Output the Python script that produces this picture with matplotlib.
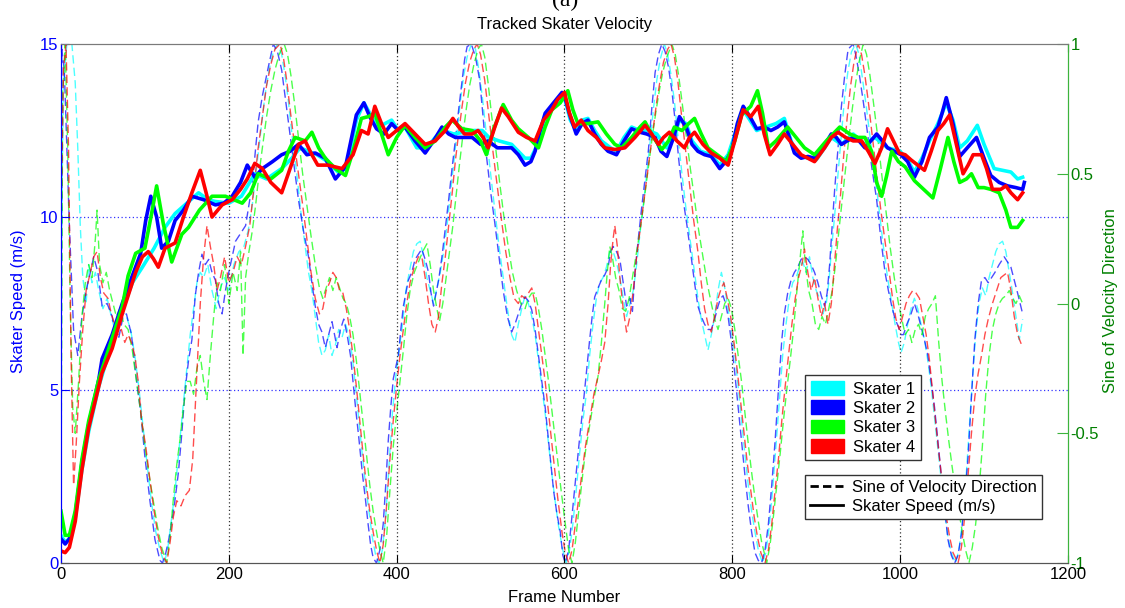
import matplotlib
matplotlib.use('Agg')
import matplotlib.pyplot as plt
from matplotlib.patches import Patch
from matplotlib.lines import Line2D

plt.rcParams['font.family'] = ['Liberation Sans', 'DejaVu Sans']

skater_names = ['Skater 1', 'Skater 2', 'Skater 3', 'Skater 4']
skater_colors = ['#00ffff', '#0000ff', '#00ff00', '#ff0000']

x_ticks = [0, 200, 400, 600, 800, 1000, 1200]
speed_ticks = [0, 5, 10, 15]
sine_ticks = [-1, -0.5, 0, 0.5, 1]
sine_tick_labels = ['-1', '-0.5', '0', '0.5', '1']

# ---- skater speed (m/s) ----
speed1_f = [0, 5, 10, 17, 25, 33, 45, 61, 73, 85, 97, 111, 124, 136, 150, 164, 175, 184, 200, 215, 231, 245, 263, 275, 285, 295, 305, 318, 330, 340, 352, 361, 368, 378, 394, 402, 410, 424, 436, 446, 456, 468, 480, 492, 502, 510, 522, 537, 545, 553, 560, 568, 577, 587, 600, 607, 614, 621, 628, 636, 644, 655, 662, 671, 680, 690, 700, 710, 722, 730, 737, 745, 752, 762, 775, 785, 795, 806, 813, 821, 829, 840, 852, 862, 870, 878, 890, 900, 910, 918, 930, 944, 958, 970, 985, 1000, 1010, 1017, 1026, 1035, 1045, 1055, 1063, 1071, 1080, 1092, 1100, 1112, 1122, 1132, 1140, 1146]
speed1_v = [0.8, 0.6, 0.7, 1.3, 2.7, 3.8, 5.1, 6.4, 7.3, 8.1, 8.55, 9.1, 9.7, 10.1, 10.4, 10.7, 10.5, 10.45, 10.4, 10.6, 11.25, 11.1, 11.4, 11.7, 12.0, 11.9, 11.8, 11.6, 11.3, 11.4, 12.8, 13.3, 13.0, 12.6, 12.8, 12.5, 12.6, 12.0, 12.0, 12.3, 12.5, 12.4, 12.45, 12.5, 12.5, 12.3, 12.2, 12.1, 11.9, 11.7, 11.7, 12.1, 12.9, 13.2, 13.45, 12.8, 12.5, 12.8, 12.85, 12.5, 12.2, 12.0, 11.9, 12.3, 12.6, 12.5, 12.5, 12.4, 12.0, 12.3, 12.8, 12.7, 12.2, 11.9, 11.8, 11.5, 11.8, 12.6, 13.1, 12.8, 12.5, 12.6, 12.7, 12.85, 12.2, 11.8, 11.7, 11.65, 12.0, 12.3, 12.1, 12.4, 12.1, 12.3, 12.0, 11.9, 11.6, 11.3, 11.7, 12.2, 12.7, 13.3, 12.8, 12.0, 12.2, 12.65, 12.1, 11.4, 11.35, 11.3, 11.1, 11.15]

speed2_f = [0, 5, 10, 17, 25, 33, 45, 49, 61, 73, 85, 95, 101, 107, 114, 120, 128, 136, 146, 156, 170, 184, 194, 204, 214, 222, 231, 240, 252, 263, 273, 283, 293, 303, 315, 327, 339, 352, 361, 368, 376, 385, 394, 402, 410, 422, 434, 444, 454, 462, 470, 480, 490, 500, 509, 520, 537, 545, 553, 560, 565, 571, 577, 587, 597, 600, 607, 614, 621, 628, 636, 644, 652, 662, 671, 680, 690, 698, 708, 715, 722, 730, 737, 745, 752, 759, 767, 775, 785, 792, 799, 806, 813, 821, 829, 838, 846, 854, 862, 868, 874, 882, 890, 898, 908, 918, 924, 930, 937, 944, 951, 958, 965, 972, 979, 985, 993, 1001, 1009, 1017, 1026, 1035, 1045, 1050, 1055, 1063, 1071, 1080, 1091, 1100, 1108, 1118, 1128, 1138, 1146, 1148]
speed2_v = [0.7, 0.55, 0.7, 1.4, 2.9, 4.0, 5.3, 5.9, 6.6, 7.5, 8.3, 8.95, 9.9, 10.6, 10.0, 9.1, 9.3, 9.9, 10.2, 10.6, 10.5, 10.35, 10.4, 10.6, 11.0, 11.5, 11.15, 11.4, 11.6, 11.8, 11.9, 12.1, 11.8, 11.85, 11.7, 11.1, 11.45, 12.95, 13.3, 12.9, 12.55, 12.4, 12.7, 12.5, 12.6, 12.2, 11.85, 12.2, 12.6, 12.4, 12.3, 12.3, 12.3, 12.1, 12.2, 12.0, 12.0, 11.8, 11.5, 11.6, 11.9, 12.5, 13.0, 13.3, 13.6, 13.5, 12.9, 12.4, 12.7, 12.8, 12.4, 12.1, 11.9, 11.8, 12.2, 12.55, 12.45, 12.4, 12.3, 11.9, 11.75, 12.3, 12.9, 12.6, 12.1, 11.9, 11.8, 11.75, 11.4, 11.6, 11.9, 12.7, 13.2, 12.9, 12.55, 12.6, 12.5, 12.6, 12.75, 12.3, 11.85, 11.7, 11.75, 11.7, 12.0, 12.4, 12.3, 12.1, 12.2, 12.3, 12.2, 12.0, 12.2, 12.4, 12.2, 12.0, 11.9, 11.8, 11.6, 11.15, 11.6, 12.3, 12.6, 13.0, 13.45, 12.7, 11.75, 12.0, 12.3, 11.7, 11.2, 11.0, 10.9, 10.85, 10.8, 11.0]

speed3_f = [0, 5, 10, 17, 25, 33, 45, 61, 73, 80, 89, 100, 108, 114, 122, 132, 144, 152, 165, 180, 196, 216, 226, 235, 250, 263, 271, 279, 291, 299, 307, 315, 327, 339, 348, 358, 366, 374, 382, 390, 400, 410, 422, 434, 446, 458, 466, 478, 490, 500, 507, 515, 527, 537, 545, 557, 569, 577, 585, 595, 604, 610, 616, 628, 640, 650, 660, 668, 680, 690, 696, 706, 716, 724, 731, 740, 748, 755, 763, 771, 782, 793, 803, 811, 822, 830, 836, 843, 852, 866, 876, 886, 898, 912, 928, 940, 950, 958, 966, 972, 978, 984, 990, 998, 1006, 1017, 1028, 1039, 1048, 1057, 1064, 1071, 1079, 1085, 1093, 1100, 1108, 1118, 1126, 1132, 1140, 1146]
speed3_v = [1.5, 0.8, 0.8, 1.5, 3.0, 4.1, 5.3, 6.5, 7.4, 8.3, 8.95, 9.1, 10.1, 10.9, 9.8, 8.7, 9.5, 9.7, 10.2, 10.6, 10.6, 10.4, 10.7, 11.25, 11.1, 11.35, 11.9, 12.3, 12.2, 12.45, 12.0, 11.7, 11.4, 11.2, 11.9, 12.85, 12.9, 13.0, 12.4, 11.8, 12.3, 12.65, 12.3, 12.0, 12.2, 12.6, 12.8, 12.55, 12.5, 12.2, 11.8, 12.5, 13.25, 12.8, 12.55, 12.3, 12.0, 12.6, 13.1, 13.3, 13.65, 13.1, 12.7, 12.7, 12.75, 12.4, 12.1, 12.0, 12.3, 12.6, 12.75, 12.3, 11.95, 12.2, 12.6, 12.5, 12.7, 12.85, 12.4, 12.0, 11.8, 11.6, 12.2, 12.95, 13.2, 13.65, 13.0, 12.0, 12.2, 12.6, 12.3, 12.0, 11.8, 12.2, 12.6, 12.4, 12.3, 12.3, 11.9, 11.0, 10.6, 11.2, 11.9, 11.6, 11.45, 11.05, 10.8, 10.55, 11.4, 12.3, 11.6, 11.0, 11.1, 11.25, 10.85, 10.85, 10.8, 10.7, 10.2, 9.7, 9.7, 9.9]

speed4_f = [0, 5, 10, 17, 25, 33, 45, 49, 61, 73, 89, 97, 104, 110, 116, 124, 136, 146, 156, 166, 173, 180, 192, 204, 214, 222, 231, 240, 250, 263, 273, 283, 291, 299, 306, 318, 335, 348, 358, 366, 374, 382, 390, 400, 410, 422, 434, 446, 458, 467, 474, 481, 490, 497, 503, 509, 517, 525, 533, 545, 555, 565, 575, 585, 592, 600, 606, 612, 620, 628, 638, 648, 660, 672, 684, 696, 704, 712, 718, 725, 734, 743, 749, 755, 765, 775, 785, 795, 804, 813, 822, 831, 838, 845, 854, 862, 872, 882, 890, 898, 910, 918, 926, 935, 944, 954, 962, 970, 978, 985, 992, 999, 1006, 1013, 1021, 1029, 1037, 1045, 1052, 1059, 1067, 1075, 1081, 1087, 1097, 1103, 1110, 1120, 1126, 1132, 1140, 1146]
speed4_v = [0.35, 0.3, 0.45, 1.2, 2.7, 3.9, 5.1, 5.5, 6.2, 7.2, 8.4, 8.85, 9.0, 8.8, 8.55, 9.1, 9.25, 10.0, 10.7, 11.35, 10.7, 10.0, 10.35, 10.5, 10.8, 11.1, 11.55, 11.4, 11.0, 10.7, 11.4, 12.1, 12.2, 11.8, 11.5, 11.5, 11.4, 11.8, 12.5, 12.4, 13.2, 12.7, 12.3, 12.5, 12.7, 12.4, 12.1, 12.2, 12.5, 12.85, 12.6, 12.4, 12.4, 12.5, 12.3, 12.0, 12.6, 13.15, 12.9, 12.45, 12.3, 12.2, 12.8, 13.1, 13.4, 13.6, 13.0, 12.6, 12.8, 12.5, 12.3, 12.0, 11.95, 12.0, 12.3, 12.65, 12.4, 12.1, 12.3, 12.45, 12.2, 12.0, 12.3, 12.45, 12.1, 11.85, 11.7, 11.5, 12.3, 13.1, 12.9, 13.2, 12.4, 11.8, 12.1, 12.4, 12.1, 11.8, 11.7, 11.6, 12.0, 12.3, 12.45, 12.3, 12.2, 12.2, 11.9, 11.55, 12.0, 12.55, 12.2, 11.85, 11.8, 11.65, 11.5, 11.35, 11.9, 12.5, 12.7, 12.95, 12.1, 11.25, 11.5, 11.8, 11.8, 11.4, 10.8, 10.8, 10.9, 10.7, 10.5, 10.7]

# ---- sine of velocity direction ----
sine1_f = [0, 3, 7, 13, 17, 20, 23, 26, 30, 33, 37, 41, 45, 50, 55, 60, 64, 68, 73, 78, 83, 88, 93, 98, 103, 108, 113, 118, 123, 127, 131, 136, 141, 146, 150, 154, 158, 162, 166, 170, 175, 180, 185, 190, 195, 200, 206, 212, 218, 223, 228, 233, 238, 243, 248, 253, 258, 263, 267, 271, 276, 281, 286, 291, 295, 299, 303, 307, 311, 315, 319, 323, 327, 331, 335, 339, 343, 347, 351, 355, 359, 363, 367, 371, 375, 379, 383, 387, 391, 395, 399, 403, 407, 411, 415, 420, 424, 428, 432, 436, 440, 444, 448, 452, 456, 460, 464, 468, 472, 476, 480, 484, 489, 494, 498, 502, 507, 512, 517, 522, 527, 532, 537, 541, 545, 549, 553, 557, 561, 565, 569, 573, 578, 583, 588, 593, 598, 602, 606, 610, 614, 618, 622, 626, 630, 634, 638, 642, 646, 650, 654, 658, 662, 666, 670, 674, 678, 682, 686, 690, 694, 698, 702, 706, 710, 714, 719, 723, 727, 731, 735, 740, 745, 750, 755, 759, 763, 767, 771, 775, 779, 783, 787, 791, 795, 799, 803, 807, 811, 815, 819, 823, 827, 831, 836, 840, 844, 848, 852, 856, 860, 864, 868, 872, 876, 880, 884, 888, 892, 896, 900, 904, 908, 912, 915, 918, 922, 926, 930, 934, 938, 942, 947, 951, 955, 960, 965, 970, 975, 980, 985, 990, 994, 998, 1001, 1005, 1009, 1013, 1017, 1021, 1025, 1029, 1033, 1037, 1041, 1045, 1049, 1053, 1057, 1061, 1066, 1070, 1074, 1078, 1082, 1086, 1090, 1094, 1098, 1102, 1106, 1110, 1114, 1118, 1122, 1126, 1130, 1134, 1138, 1142, 1146]
sine1_v = [0.1, 0.85, 1.0, 1.0, 0.85, 0.6, 0.3, 0.1, 0.0, 0.15, 0.08, 0.12, 0.05, -0.02, 0.02, -0.05, -0.1, -0.08, -0.03, -0.05, -0.1, -0.2, -0.33, -0.48, -0.63, -0.77, -0.88, -0.95, -1.0, -0.95, -0.85, -0.72, -0.55, -0.38, -0.25, -0.12, -0.02, 0.08, 0.12, 0.1, 0.15, 0.05, -0.02, 0.06, 0.1, 0.05, 0.15, 0.2, 0.22, 0.28, 0.38, 0.52, 0.66, 0.8, 0.9, 0.97, 1.0, 0.96, 0.88, 0.78, 0.63, 0.5, 0.35, 0.22, 0.12, 0.05, -0.05, -0.15, -0.2, -0.18, -0.12, -0.2, -0.16, -0.1, -0.13, -0.08, -0.12, -0.2, -0.32, -0.45, -0.58, -0.7, -0.8, -0.9, -0.97, -1.0, -0.95, -0.82, -0.62, -0.42, -0.28, -0.18, -0.08, 0.05, 0.12, 0.2, 0.23, 0.24, 0.18, 0.1, 0.05, 0.0, 0.06, 0.12, 0.2, 0.3, 0.42, 0.54, 0.66, 0.78, 0.88, 0.95, 1.0, 0.98, 0.9, 0.8, 0.65, 0.5, 0.36, 0.22, 0.1, -0.02, -0.12, -0.15, -0.08, -0.02, 0.03, 0.0, -0.05, -0.12, -0.22, -0.32, -0.45, -0.6, -0.74, -0.86, -0.95, -1.0, -0.95, -0.85, -0.72, -0.58, -0.45, -0.35, -0.2, -0.08, 0.02, 0.08, 0.1, 0.14, 0.2, 0.2, 0.16, 0.1, 0.02, -0.05, 0.0, 0.05, 0.15, 0.27, 0.38, 0.5, 0.62, 0.75, 0.86, 0.94, 1.0, 0.96, 0.88, 0.78, 0.65, 0.5, 0.36, 0.24, 0.12, 0.02, -0.06, -0.12, -0.18, -0.12, -0.05, 0.05, 0.12, 0.06, -0.02, -0.1, -0.2, -0.32, -0.45, -0.58, -0.7, -0.8, -0.88, -0.95, -1.0, -0.96, -0.86, -0.72, -0.55, -0.38, -0.2, -0.08, 0.02, 0.08, 0.1, 0.14, 0.16, 0.12, 0.18, 0.1, 0.05, 0.02, -0.04, 0.0, 0.08, 0.2, 0.34, 0.5, 0.65, 0.8, 0.9, 0.97, 1.0, 0.96, 0.87, 0.75, 0.62, 0.5, 0.36, 0.22, 0.1, 0.0, -0.08, -0.15, -0.19, -0.15, -0.08, -0.02, 0.02, -0.02, -0.08, -0.14, -0.22, -0.32, -0.44, -0.56, -0.68, -0.8, -0.9, -0.96, -1.0, -0.95, -0.85, -0.7, -0.5, -0.3, -0.12, 0.0, 0.06, 0.03, 0.1, 0.15, 0.2, 0.23, 0.24, 0.2, 0.12, 0.04, -0.05, -0.14, -0.06]

sine2_f = [0, 1, 4, 10, 15, 20, 25, 30, 35, 39, 44, 49, 55, 61, 65, 69, 74, 78, 84, 89, 95, 100, 106, 112, 118, 121, 125, 129, 135, 140, 144, 148, 152, 156, 160, 164, 168, 172, 176, 180, 184, 188, 192, 196, 200, 204, 208, 214, 220, 224, 228, 232, 235, 240, 247, 253, 258, 263, 267, 271, 277, 283, 289, 295, 299, 303, 307, 311, 315, 319, 323, 326, 329, 333, 337, 341, 345, 348, 351, 355, 359, 363, 366, 369, 372, 376, 380, 384, 387, 390, 393, 396, 402, 405, 408, 414, 418, 422, 426, 430, 434, 438, 441, 444, 447, 450, 454, 458, 462, 466, 470, 474, 478, 481, 484, 489, 494, 499, 503, 507, 512, 517, 522, 527, 532, 537, 541, 545, 549, 553, 557, 561, 565, 569, 573, 577, 582, 587, 591, 595, 598, 601, 605, 608, 611, 614, 618, 622, 626, 630, 633, 636, 640, 644, 648, 652, 655, 658, 662, 666, 670, 674, 678, 681, 684, 688, 692, 696, 700, 704, 708, 712, 716, 720, 724, 728, 732, 736, 741, 746, 751, 755, 759, 763, 767, 771, 775, 779, 783, 786, 789, 792, 795, 799, 803, 807, 811, 815, 819, 823, 827, 831, 835, 839, 843, 847, 851, 855, 859, 862, 866, 870, 874, 878, 882, 886, 890, 894, 898, 902, 906, 910, 913, 916, 919, 922, 926, 930, 934, 938, 944, 947, 951, 956, 961, 966, 972, 977, 982, 986, 990, 994, 998, 1001, 1004, 1008, 1012, 1017, 1021, 1025, 1029, 1033, 1037, 1041, 1045, 1049, 1053, 1057, 1061, 1065, 1069, 1073, 1077, 1081, 1085, 1089, 1093, 1097, 1101, 1105, 1109, 1113, 1118, 1124, 1128, 1132, 1136, 1140, 1146]
sine2_v = [-1.0, 0.98, 0.9, 0.3, -0.1, -0.2, -0.05, 0.05, 0.12, 0.18, 0.12, -0.01, 0.0, -0.05, -0.12, -0.13, -0.05, -0.04, -0.12, -0.27, -0.42, -0.59, -0.76, -0.91, -0.99, -1.0, -0.96, -0.9, -0.78, -0.65, -0.5, -0.33, -0.22, -0.14, 0.03, 0.12, 0.19, 0.15, 0.17, 0.12, 0.09, 0.0, -0.04, 0.05, 0.12, 0.18, 0.24, 0.27, 0.3, 0.38, 0.46, 0.6, 0.7, 0.8, 0.91, 1.0, 0.97, 0.9, 0.8, 0.7, 0.55, 0.4, 0.28, 0.18, 0.08, -0.01, -0.08, -0.11, -0.17, -0.12, -0.07, -0.12, -0.17, -0.1, -0.06, -0.12, -0.2, -0.3, -0.4, -0.52, -0.65, -0.76, -0.85, -0.93, -0.98, -1.0, -0.95, -0.85, -0.7, -0.53, -0.4, -0.29, -0.2, -0.1, -0.01, 0.09, 0.12, 0.17, 0.19, 0.21, 0.17, 0.12, 0.04, -0.01, 0.04, 0.09, 0.18, 0.29, 0.4, 0.52, 0.63, 0.75, 0.86, 0.94, 0.99, 1.0, 0.95, 0.86, 0.72, 0.57, 0.43, 0.31, 0.18, 0.05, -0.05, -0.11, -0.08, -0.04, 0.0, 0.025, 0.01, -0.025, -0.1, -0.2, -0.3, -0.4, -0.56, -0.72, -0.81, -0.88, -0.97, -1.0, -0.95, -0.85, -0.75, -0.65, -0.52, -0.4, -0.27, -0.14, -0.05, 0.025, 0.06, 0.09, 0.11, 0.14, 0.2, 0.22, 0.2, 0.17, 0.08, -0.01, 0.02, -0.03, 0.12, 0.25, 0.37, 0.48, 0.59, 0.75, 0.89, 0.96, 1.0, 0.97, 0.91, 0.82, 0.7, 0.56, 0.41, 0.3, 0.18, 0.08, -0.01, -0.05, -0.08, -0.1, -0.1, -0.06, -0.01, 0.02, 0.03, 0.0, -0.05, -0.15, -0.27, -0.4, -0.53, -0.66, -0.78, -0.88, -0.96, -0.99, -1.0, -0.95, -0.85, -0.7, -0.53, -0.33, -0.14, -0.04, 0.04, 0.09, 0.12, 0.14, 0.17, 0.18, 0.17, 0.15, 0.12, 0.08, 0.03, -0.01, 0.04, 0.15, 0.3, 0.44, 0.6, 0.76, 0.88, 0.98, 1.0, 0.96, 0.89, 0.78, 0.66, 0.53, 0.4, 0.25, 0.12, 0.05, -0.01, -0.06, -0.09, -0.12, -0.12, -0.08, -0.05, 0.0, -0.04, -0.09, -0.14, -0.2, -0.3, -0.4, -0.53, -0.66, -0.79, -0.91, -0.97, -1.0, -0.97, -0.89, -0.75, -0.59, -0.36, -0.14, 0.0, 0.09, 0.1, 0.08, 0.1, 0.12, 0.15, 0.18, 0.16, 0.14, 0.09, 0.04, -0.04]

sine3_f = [0, 2, 5, 8, 11, 14, 17, 21, 25, 29, 33, 37, 41, 43, 46, 50, 54, 58, 62, 66, 70, 75, 80, 85, 90, 95, 100, 105, 110, 115, 120, 126, 130, 134, 138, 142, 146, 150, 154, 158, 162, 166, 170, 174, 178, 182, 186, 190, 195, 200, 205, 210, 214, 217, 220, 224, 228, 232, 236, 240, 245, 250, 255, 260, 266, 270, 274, 278, 283, 288, 293, 298, 303, 308, 312, 316, 320, 324, 328, 332, 336, 340, 344, 348, 352, 356, 360, 364, 368, 372, 376, 380, 384, 388, 392, 396, 400, 404, 408, 412, 416, 421, 426, 431, 436, 440, 444, 448, 451, 455, 459, 463, 467, 471, 475, 479, 483, 487, 492, 497, 501, 505, 509, 513, 518, 523, 528, 533, 538, 543, 548, 553, 557, 561, 565, 569, 573, 577, 581, 586, 591, 596, 601, 605, 609, 613, 617, 621, 625, 630, 635, 640, 644, 648, 651, 654, 657, 661, 665, 669, 673, 677, 681, 685, 689, 693, 697, 701, 705, 709, 713, 717, 722, 728, 732, 736, 740, 745, 750, 755, 760, 765, 770, 775, 779, 783, 787, 791, 795, 799, 803, 807, 811, 815, 819, 823, 827, 831, 835, 841, 845, 849, 853, 857, 861, 865, 869, 873, 877, 881, 884, 887, 891, 895, 899, 903, 907, 911, 915, 919, 923, 927, 931, 935, 939, 943, 947, 951, 956, 960, 964, 968, 973, 978, 983, 988, 993, 998, 1002, 1006, 1010, 1014, 1018, 1022, 1026, 1030, 1034, 1038, 1042, 1046, 1050, 1054, 1058, 1062, 1066, 1070, 1074, 1078, 1082, 1086, 1090, 1094, 1098, 1102, 1106, 1110, 1114, 1118, 1122, 1126, 1130, 1134, 1138, 1142, 1146]
sine3_v = [-0.8, 0.8, 1.0, 0.6, 0.0, -0.4, -0.5, -0.3, -0.05, 0.08, 0.15, 0.1, 0.25, 0.36, 0.15, 0.08, 0.12, 0.05, 0.0, -0.05, -0.02, -0.08, -0.1, -0.18, -0.3, -0.42, -0.55, -0.66, -0.76, -0.86, -0.94, -1.0, -0.9, -0.75, -0.62, -0.52, -0.4, -0.3, -0.3, -0.35, -0.25, -0.2, -0.3, -0.37, -0.2, -0.05, 0.08, 0.05, 0.15, 0.0, 0.12, 0.05, 0.2, -0.2, 0.1, 0.2, 0.28, 0.38, 0.5, 0.6, 0.72, 0.82, 0.9, 0.96, 1.0, 0.96, 0.88, 0.78, 0.64, 0.5, 0.38, 0.26, 0.15, 0.06, 0.02, 0.06, 0.1, 0.05, 0.1, 0.06, 0.02, 0.0, -0.05, -0.12, -0.22, -0.34, -0.46, -0.58, -0.7, -0.8, -0.88, -0.95, -1.0, -0.9, -0.72, -0.55, -0.42, -0.3, -0.18, -0.05, 0.05, 0.12, 0.16, 0.2, 0.23, 0.15, 0.05, -0.02, -0.07, 0.0, 0.1, 0.2, 0.3, 0.42, 0.54, 0.65, 0.75, 0.84, 0.92, 0.98, 1.0, 0.95, 0.85, 0.73, 0.6, 0.46, 0.33, 0.22, 0.12, 0.05, 0.0, -0.02, 0.02, 0.04, 0.04, -0.02, -0.1, -0.2, -0.3, -0.44, -0.58, -0.72, -0.85, -0.95, -1.0, -0.92, -0.8, -0.68, -0.57, -0.47, -0.37, -0.28, -0.15, 0.0, 0.12, 0.22, 0.18, 0.1, 0.05, -0.02, -0.03, 0.02, 0.1, 0.18, 0.26, 0.35, 0.45, 0.55, 0.65, 0.74, 0.82, 0.89, 0.95, 1.0, 0.96, 0.88, 0.78, 0.65, 0.52, 0.4, 0.28, 0.18, 0.08, 0.0, -0.06, -0.1, -0.05, 0.0, 0.02, -0.02, -0.1, -0.2, -0.3, -0.42, -0.54, -0.65, -0.75, -0.84, -0.92, -1.0, -0.93, -0.82, -0.7, -0.58, -0.45, -0.33, -0.22, -0.1, 0.05, 0.18, 0.28, 0.15, 0.05, 0.0, -0.08, -0.1, -0.05, -0.08, -0.02, 0.05, 0.15, 0.28, 0.4, 0.52, 0.64, 0.75, 0.85, 0.93, 1.0, 0.96, 0.88, 0.78, 0.65, 0.5, 0.36, 0.22, 0.1, 0.0, -0.06, -0.12, -0.1, -0.15, -0.1, -0.08, -0.12, -0.05, -0.02, 0.0, 0.03, -0.15, -0.3, -0.42, -0.53, -0.63, -0.72, -0.8, -0.88, -0.95, -1.0, -0.94, -0.85, -0.72, -0.55, -0.35, -0.2, -0.1, -0.04, 0.0, 0.02, 0.03, 0.05, 0.02, 0.0, 0.03, 0.0]

sine4_f = [0, 3, 6, 9, 12, 15, 18, 22, 26, 30, 35, 39, 43, 47, 51, 56, 60, 64, 68, 72, 76, 80, 84, 88, 92, 96, 101, 106, 111, 116, 121, 126, 130, 134, 138, 143, 148, 153, 157, 160, 163, 166, 170, 174, 178, 182, 186, 190, 195, 200, 205, 210, 215, 220, 225, 230, 235, 240, 245, 250, 255, 261, 265, 269, 273, 278, 283, 288, 293, 298, 303, 308, 312, 316, 320, 324, 328, 332, 336, 340, 344, 348, 352, 356, 360, 364, 368, 372, 376, 380, 384, 388, 392, 396, 400, 404, 408, 412, 416, 421, 426, 430, 434, 438, 442, 446, 450, 454, 458, 462, 466, 470, 474, 478, 482, 487, 492, 496, 500, 505, 510, 515, 520, 525, 530, 535, 540, 545, 549, 553, 557, 561, 565, 569, 573, 577, 582, 587, 592, 597, 601, 605, 609, 613, 617, 621, 625, 630, 635, 640, 644, 648, 652, 655, 658, 660, 663, 666, 670, 674, 678, 682, 686, 690, 694, 698, 702, 706, 710, 714, 718, 723, 727, 731, 735, 739, 744, 749, 754, 759, 763, 767, 771, 775, 779, 783, 787, 790, 794, 798, 802, 806, 810, 814, 818, 822, 826, 830, 834, 839, 843, 847, 851, 855, 859, 863, 867, 871, 875, 879, 883, 886, 890, 894, 898, 902, 906, 910, 914, 918, 921, 925, 929, 933, 937, 941, 945, 950, 954, 958, 962, 967, 972, 977, 982, 987, 991, 995, 999, 1003, 1007, 1011, 1015, 1019, 1023, 1027, 1031, 1035, 1039, 1043, 1047, 1051, 1055, 1059, 1063, 1069, 1073, 1077, 1081, 1085, 1089, 1093, 1097, 1101, 1105, 1110, 1115, 1120, 1124, 1128, 1132, 1136, 1140, 1146]
sine4_v = [0.3, 0.9, 1.0, 0.6, -0.2, -0.7, -0.55, -0.3, -0.1, 0.05, 0.12, 0.18, 0.2, 0.1, 0.04, 0.02, -0.04, -0.08, -0.12, -0.1, -0.15, -0.12, -0.15, -0.2, -0.3, -0.45, -0.55, -0.68, -0.8, -0.9, -0.97, -1.0, -0.92, -0.82, -0.76, -0.78, -0.74, -0.72, -0.6, -0.4, -0.2, 0.0, 0.18, 0.3, 0.22, 0.15, 0.05, 0.1, 0.18, 0.08, 0.12, 0.18, 0.15, 0.22, 0.3, 0.45, 0.6, 0.72, 0.84, 0.92, 0.98, 1.0, 0.95, 0.86, 0.75, 0.62, 0.5, 0.38, 0.25, 0.12, 0.02, -0.04, -0.02, 0.05, 0.08, 0.12, 0.1, 0.05, 0.04, -0.02, -0.1, -0.2, -0.32, -0.45, -0.58, -0.7, -0.8, -0.88, -0.95, -1.0, -0.93, -0.78, -0.6, -0.45, -0.32, -0.2, -0.1, 0.0, 0.08, 0.14, 0.18, 0.18, 0.1, 0.0, -0.08, -0.11, -0.05, 0.08, 0.18, 0.3, 0.42, 0.55, 0.66, 0.76, 0.85, 0.93, 0.98, 1.0, 0.96, 0.86, 0.72, 0.58, 0.45, 0.32, 0.2, 0.1, 0.02, 0.0, 0.03, 0.02, 0.04, 0.06, 0.0, -0.1, -0.2, -0.3, -0.45, -0.6, -0.75, -0.88, -0.96, -1.0, -0.95, -0.85, -0.75, -0.65, -0.55, -0.45, -0.35, -0.28, -0.22, -0.15, 0.0, 0.15, 0.25, 0.3, 0.22, 0.1, -0.02, -0.11, -0.05, 0.05, 0.18, 0.28, 0.38, 0.48, 0.58, 0.68, 0.78, 0.86, 0.93, 0.98, 1.0, 0.95, 0.86, 0.74, 0.6, 0.46, 0.32, 0.2, 0.08, -0.02, -0.08, -0.11, -0.05, 0.02, 0.06, 0.08, 0.02, -0.05, -0.15, -0.26, -0.38, -0.5, -0.62, -0.72, -0.82, -0.9, -0.96, -1.0, -0.95, -0.85, -0.72, -0.6, -0.45, -0.32, -0.2, -0.08, 0.02, 0.1, 0.15, 0.21, 0.12, 0.05, 0.1, 0.02, -0.05, 0.0, -0.08, 0.0, 0.12, 0.28, 0.42, 0.58, 0.72, 0.84, 0.93, 1.0, 0.96, 0.88, 0.78, 0.64, 0.5, 0.36, 0.24, 0.12, 0.02, -0.06, -0.1, -0.05, 0.0, 0.03, 0.05, 0.04, 0.02, -0.05, -0.12, -0.22, -0.35, -0.48, -0.6, -0.72, -0.82, -0.9, -0.96, -1.0, -0.94, -0.82, -0.66, -0.5, -0.36, -0.27, -0.2, -0.12, -0.06, 0.0, 0.05, 0.1, 0.11, 0.12, 0.05, -0.05, -0.12, -0.17]

speed_data = [(speed1_f, speed1_v), (speed2_f, speed2_v), (speed3_f, speed3_v), (speed4_f, speed4_v)]
sine_data = [(sine1_f, sine1_v), (sine2_f, sine2_v), (sine3_f, sine3_v), (sine4_f, sine4_v)]

blue = '#0000ff'
dark_green = '#008000'
axis_green = '#3cb43c'

fig = plt.figure(figsize=(11.25, 6.08), dpi=100)
ax = fig.add_axes([0.0542, 0.074, 0.8951, 0.8536])
ax2 = ax.twinx()

# dashed sines on the right axis (drawn underneath)
for (f, v), c in zip(sine_data, skater_colors):
    ax2.plot(f, v, color=c, linestyle=(0, (6, 3)), linewidth=1.0, alpha=0.7)

# solid speeds on the left axis
for (f, v), c in zip(speed_data, skater_colors):
    ax.plot(f, v, color=c, linewidth=2.6, solid_joinstyle='round')

ax.set_zorder(ax2.get_zorder() + 1)
ax.patch.set_visible(False)

ax.set_xlim(0, 1200)
ax.set_ylim(0, 15)
ax2.set_ylim(-1, 1)

ax.set_xticks(x_ticks)
ax.set_xticklabels([str(t) for t in x_ticks], fontsize=12)
ax.set_yticks(speed_ticks)
ax.set_yticklabels([str(t) for t in speed_ticks], fontsize=12, color=blue)
ax2.set_yticks(sine_ticks)
ax2.set_yticklabels(sine_tick_labels, fontsize=12, color=dark_green)

ax.tick_params(axis='x', direction='in', length=6, top=True, pad=3)
ax.tick_params(axis='y', direction='in', length=6, colors=blue, pad=2)
ax2.tick_params(axis='y', direction='in', length=8, color=axis_green, pad=2)

# grid: vertical black dotted, horizontal blue dotted
for t in x_ticks[1:-1]:
    ax.axvline(t, color='#333333', linestyle=(0, (1, 2)), linewidth=0.9, zorder=0.5)
for t in speed_ticks[1:-1]:
    ax.axhline(t, color=blue, linestyle=(0, (1, 2)), linewidth=0.9, alpha=0.8, zorder=0.5)

for a in (ax, ax2):
    a.spines['top'].set_color('#7a7a7a')
    a.spines['bottom'].set_color('#555555')
    a.spines['left'].set_color(blue)
    a.spines['right'].set_color(axis_green)

fig.text(0.5018, 0.9589, 'Tracked Skater Velocity', ha='center', va='center', fontsize=12)
fig.text(0.5024, 1.0, '(a)', ha='center', va='center', fontsize=17, family='Liberation Serif')
fig.text(0.5018, 0.0175, 'Frame Number', ha='center', va='center', fontsize=12)
fig.text(0.0165, 0.505, 'Skater Speed (m/s)', ha='center', va='center', rotation=90,
         fontsize=12, color=blue)
fig.text(0.9875, 0.505, 'Sine of Velocity Direction', ha='center', va='center', rotation=90,
         fontsize=12, color=dark_green)

skater_handles = [Patch(facecolor=c, edgecolor=c) for c in skater_colors]
leg1 = ax.legend(skater_handles, skater_names, loc='upper left', bbox_to_anchor=(0.739, 0.362),
                 borderaxespad=0, fontsize=12, fancybox=False, framealpha=1, edgecolor='#333333',
                 handlelength=2.0, handleheight=0.9, handletextpad=0.5, labelspacing=0.22,
                 borderpad=0.35)
leg1.get_frame().set_linewidth(1.0)
ax.add_artist(leg1)

style_handles = [Line2D([0], [0], color='black', linestyle=(0, (3, 1.5)), linewidth=2),
                 Line2D([0], [0], color='black', linewidth=2)]
leg2 = ax.legend(style_handles, ['Sine of Velocity Direction', 'Skater Speed (m/s)'],
                 loc='upper left', bbox_to_anchor=(0.739, 0.1696), borderaxespad=0, fontsize=12,
                 fancybox=False, framealpha=1, edgecolor='#333333', handlelength=2.0,
                 handletextpad=0.5, labelspacing=0.25, borderpad=0.3)
leg2.get_frame().set_linewidth(1.0)

fig.savefig('out.png', dpi=100)
